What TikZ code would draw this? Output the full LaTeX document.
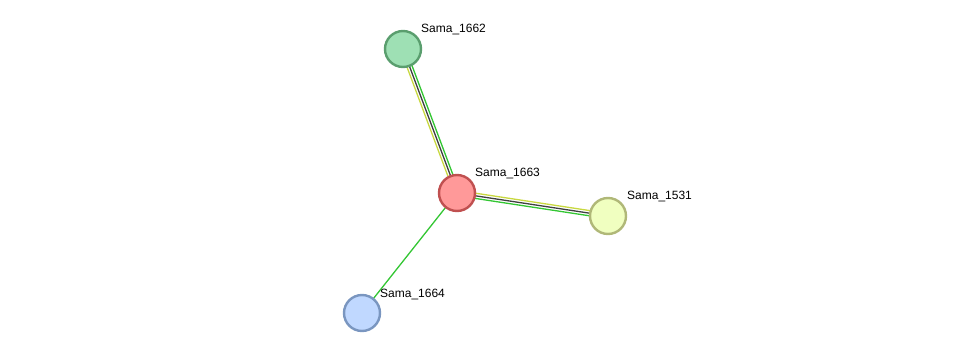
\documentclass[tikz,border=0pt]{standalone}
\usepackage{fontspec}
\setmainfont{Liberation Sans}
\usetikzlibrary{calc}
\definecolor{eyel}{HTML}{C8D840}
\definecolor{edark}{HTML}{404040}
\definecolor{egrn}{HTML}{33C633}
\begin{document}
\begin{tikzpicture}[x=1pt,y=-1pt,
  prot/.style={circle,minimum size=36pt,inner sep=0pt,line width=2.4pt},
  lab/.style={anchor=west,font=\fontsize{12}{14}\selectfont,inner sep=0pt},
  edg/.style={line width=1.3pt}]
\useasboundingbox (0,0) rectangle (975,359);
\coordinate (c1662) at (403,49);
\coordinate (c1663) at (457,193);
\coordinate (c1531) at (608,216);
\coordinate (c1664) at (362,313);
% edges
\draw[edg,egrn] ($(c1662)!2.6pt!90:(c1663)$) -- ($(c1663)!2.6pt!-90:(c1662)$);
\draw[edg,edark] (c1662) -- (c1663);
\draw[edg,eyel] ($(c1662)!2.6pt!-90:(c1663)$) -- ($(c1663)!2.6pt!90:(c1662)$);
\draw[edg,eyel] ($(c1663)!2.6pt!90:(c1531)$) -- ($(c1531)!2.6pt!-90:(c1663)$);
\draw[edg,edark] (c1663) -- (c1531);
\draw[edg,egrn] ($(c1663)!2.6pt!-90:(c1531)$) -- ($(c1531)!2.6pt!90:(c1663)$);
\draw[edg,egrn] (c1663) -- (c1664);
% nodes
\node[prot,draw={rgb,255:red,90;green,158;blue,110},fill={rgb,255:red,158;green,224;blue,180}] (n1662) at (c1662) {};
\node[prot,draw={rgb,255:red,192;green,80;blue,80},fill={rgb,255:red,255;green,153;blue,153}] (n1663) at (c1663) {};
\node[prot,draw={rgb,255:red,176;green,184;blue,120},fill={rgb,255:red,240;green,255;blue,192}] (n1531) at (c1531) {};
\node[prot,draw={rgb,255:red,122;green,150;blue,192},fill={rgb,255:red,192;green,216;blue,255}] (n1664) at (c1664) {};
\node[lab] (l1662) at (421,30) {Sama\_1662};
\node[lab] (l1663) at (475,173) {Sama\_1663};
\node[lab] (l1531) at (627,197) {Sama\_1531};
\node[lab] (l1664) at (380,294) {Sama\_1664};
\end{tikzpicture}
\end{document}
